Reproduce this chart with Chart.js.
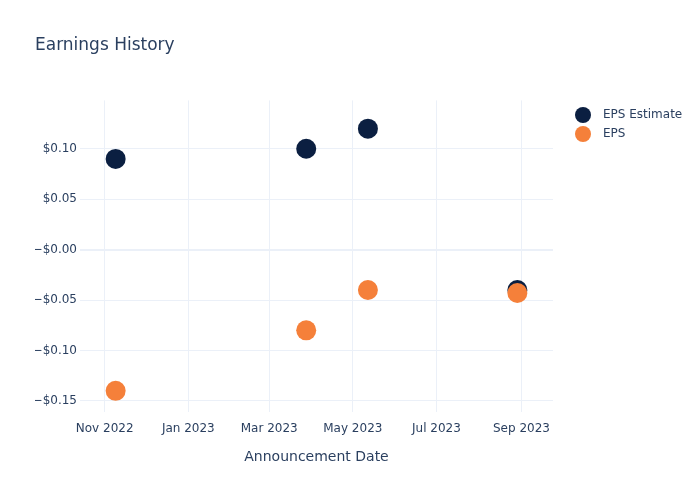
<!DOCTYPE html>
<html>
<head>
<meta charset="utf-8">
<style>
  html, body { margin: 0; padding: 0; background: #fff; }
  #wrap { width: 700px; height: 500px; }
</style>
</head>
<body>
<div id="wrap">
  <canvas id="chartEarnings" width="700" height="500"></canvas>
</div>
<script src="https://cdn.jsdelivr.net/npm/chart.js@4"></script>
<script>
(function() {
    // values
    const announceDates = ['2022-11-09', '2023-03-28', '2023-05-12', '2023-08-29'];
    const epsEstimate = [0.09, 0.10, 0.12, -0.04];
    const epsActual = [-0.14, -0.08, -0.04, -0.043];

    const xTickDates = ['2022-11-01', '2023-01-01', '2023-03-01', '2023-05-01', '2023-07-01', '2023-09-01'];
    const xTickLabels = ['Nov 2022', 'Jan 2023', 'Mar 2023', 'May 2023', 'Jul 2023', 'Sep 2023'];
    const yTicks = [-0.15, -0.10, -0.05, 0, 0.05, 0.10];

    const textColor = '#2a3f5f';
    const gridColor = '#EBF0F8';
    const navy = '#0b1f41';
    const orange = '#f5803a';

    function ts(s) {
        const p = s.split('-').map(Number);
        return Date.UTC(p[0], p[1] - 1, p[2]);
    }

    function money(v) {
        const r = Math.round(v * 100) / 100;
        if (r > 0) return '$' + r.toFixed(2);
        return '\u2212$' + Math.abs(r).toFixed(2);
    }

    const estPoints = announceDates.map((d, i) => ({ x: ts(d), y: epsEstimate[i] }));
    const epsPoints = announceDates.map((d, i) => ({ x: ts(d), y: epsActual[i] }));

    // plotly-like legend on the right
    const sideLegend = {
        id: 'sideLegend',
        afterDraw(chart) {
            const ctx = chart.ctx;
            const x = chart.chartArea.right + 30;
            ctx.save();
            ctx.font = '12px "DejaVu Sans"';
            ctx.textBaseline = 'middle';
            chart.data.datasets.forEach((ds, i) => {
                const y = 115 + i * 19;
                ctx.beginPath();
                ctx.arc(x, y, 8, 0, Math.PI * 2);
                ctx.fillStyle = ds.backgroundColor;
                ctx.fill();
                ctx.fillStyle = textColor;
                ctx.fillText(ds.label, x + 20, y);
            });
            ctx.restore();
        }
    };

    Chart.defaults.font.family = '"DejaVu Sans", sans-serif';
    Chart.defaults.color = textColor;

    new Chart(document.getElementById('chartEarnings').getContext('2d'), {
        type: 'scatter',
        data: {
            datasets: [
                { label: 'EPS Estimate', data: estPoints, backgroundColor: navy, borderColor: navy,
                  pointRadius: 10, pointHoverRadius: 10, borderWidth: 0, order: 2 },
                { label: 'EPS', data: epsPoints, backgroundColor: orange, borderColor: orange,
                  pointRadius: 10, pointHoverRadius: 10, borderWidth: 0, order: 1 }
            ]
        },
        options: {
            responsive: false,
            animation: false,
            layout: { padding: { left: 35, right: 147, top: 0, bottom: 0 } },
            plugins: {
                legend: { display: false },
                tooltip: { enabled: false },
                title: {
                    display: true,
                    text: 'Earnings History',
                    align: 'start',
                    color: textColor,
                    font: { size: 17, weight: 'normal' },
                    padding: { top: 35, bottom: 45 }
                }
            },
            scales: {
                x: {
                    type: 'linear',
                    min: ts('2022-10-14'),
                    max: ts('2023-09-24'),
                    afterBuildTicks(scale) {
                        scale.ticks = xTickDates.map(d => ({ value: ts(d) }));
                    },
                    afterFit(scale) { scale.height = 88; },
                    ticks: {
                        padding: 10,
                        maxRotation: 0,
                        autoSkip: false,
                        font: { size: 12 },
                        callback: function(value) {
                            const i = xTickDates.findIndex(d => ts(d) === value);
                            return i >= 0 ? xTickLabels[i] : '';
                        }
                    },
                    grid: { color: gridColor, drawTicks: false },
                    border: { display: false },
                    title: {
                        display: true,
                        text: 'Announcement Date',
                        color: textColor,
                        font: { size: 14 },
                        padding: { top: 0, bottom: 34.6 }
                    }
                },
                y: {
                    min: -0.161,
                    max: 0.148,
                    afterBuildTicks(scale) {
                        scale.ticks = yTicks.map(v => ({ value: v }));
                    },
                    afterFit(scale) { scale.width = 45; },
                    ticks: {
                        padding: 3,
                        font: { size: 12 },
                        callback: v => money(v)
                    },
                    grid: {
                        color: gridColor,
                        drawTicks: false,
                        lineWidth: ctx => (ctx.tick && Math.abs(ctx.tick.value) < 1e-9 ? 2 : 1)
                    },
                    border: { display: false }
                }
            }
        },
        plugins: [sideLegend]
    });
})();
</script>
</body>
</html>
